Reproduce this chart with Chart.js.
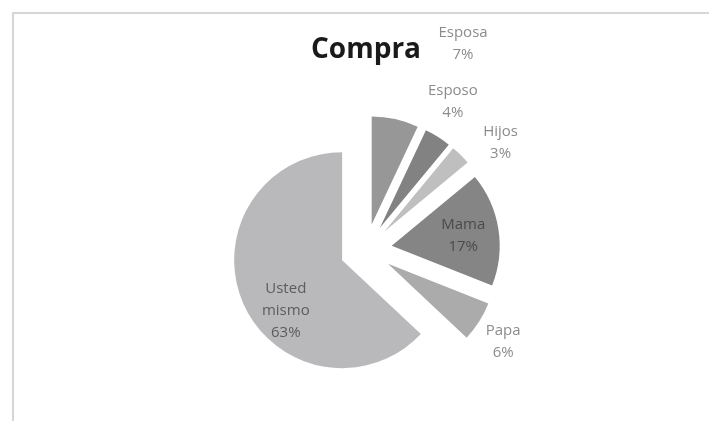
<!DOCTYPE html>
<html>
<head>
<meta charset="utf-8">
<script src="https://cdn.jsdelivr.net/npm/chart.js@4.4.0/dist/chart.umd.min.js"></script>
<style>
  body { margin: 0; background: #fff; }
  #marco { position: absolute; left: 12px; top: 12px; right: 0; bottom: 0;
           border-left: 2px solid #d6d6d6; border-top: 2px solid #d6d6d6; }
  canvas { position: absolute; left: 0; top: 0; }
</style>
</head>
<body>
<div id="marco"></div>
<canvas id="graficaCompra" width="709" height="421"></canvas>
<script>
const categorias = ['Esposa', 'Esposo', 'Hijos', 'Mama', 'Papa', 'Usted mismo'];
const porcentajes = [7, 4, 3, 17, 6, 63];
const colores = ['#979797', '#828282', '#bfbfbf', '#858585', '#ababab', '#b9b9bc'];
const colorEtiqueta = ['#8c8c8c', '#8c8c8c', '#8c8c8c', '#4a4a4a', '#8c8c8c', '#5c5c5c'];
// donde va cada etiqueta: fraccion del arco y distancia al centro (en radios)
const posEtiqueta = [[1.0, 2.11], [0.36, 1.59], [1.11, 1.59], [0.51, 0.91], [0.57, 1.53], [0.44, 0.93]];
const separacion = 26; // px que se separa cada porcion del centro

// el offset de Chart.js tambien agranda el radio de las porciones finas,
// asi que se desplaza el centro de cada arco a mano
const separar = {
  id: 'separar',
  afterDatasetsUpdate(chart) {
    chart.getDatasetMeta(0).data.forEach(arco => {
      const medio = (arco.startAngle + arco.endAngle) / 2;
      arco.x += Math.cos(medio) * separacion;
      arco.y += Math.sin(medio) * separacion;
    });
  }
};

const etiquetas = {
  id: 'etiquetas',
  afterDatasetsDraw(chart) {
    const ctx = chart.ctx;
    const area = chart.chartArea;
    const x0 = (area.left + area.right) / 2;
    const y0 = (area.top + area.bottom) / 2;
    ctx.save();
    ctx.font = '15px "Open Sans"';
    ctx.textAlign = 'center';
    ctx.textBaseline = 'middle';
    chart.getDatasetMeta(0).data.forEach((arco, i) => {
      const [f, d] = posEtiqueta[i];
      const ang = arco.startAngle + (arco.endAngle - arco.startAngle) * f;
      const cx = x0 + Math.cos(ang) * arco.outerRadius * d;
      const cy = y0 + Math.sin(ang) * arco.outerRadius * d;
      const lineas = categorias[i].split(' ').concat(porcentajes[i] + '%');
      ctx.fillStyle = colorEtiqueta[i];
      lineas.forEach((t, k) => ctx.fillText(t, cx, cy + (k - (lineas.length - 1) / 2) * 22));
    });
    ctx.restore();
  }
};

new Chart(document.getElementById('graficaCompra'), {
  type: 'pie',
  data: {
    labels: categorias,
    datasets: [{
      data: porcentajes,
      backgroundColor: colores,
      borderWidth: 0,
      radius: 108
    }]
  },
  options: {
    responsive: false,
    animation: false,
    layout: { padding: { top: 23, left: 23, right: 0, bottom: 0 } },
    plugins: {
      legend: { display: false },
      tooltip: { enabled: false },
      title: {
        display: true,
        text: 'Compra',
        color: '#1a1a1a',
        font: { family: '"Open Sans"', size: 28, weight: 'bold' },
        padding: { top: 10, bottom: 12 }
      }
    }
  },
  plugins: [separar, etiquetas]
});
</script>
</body>
</html>
